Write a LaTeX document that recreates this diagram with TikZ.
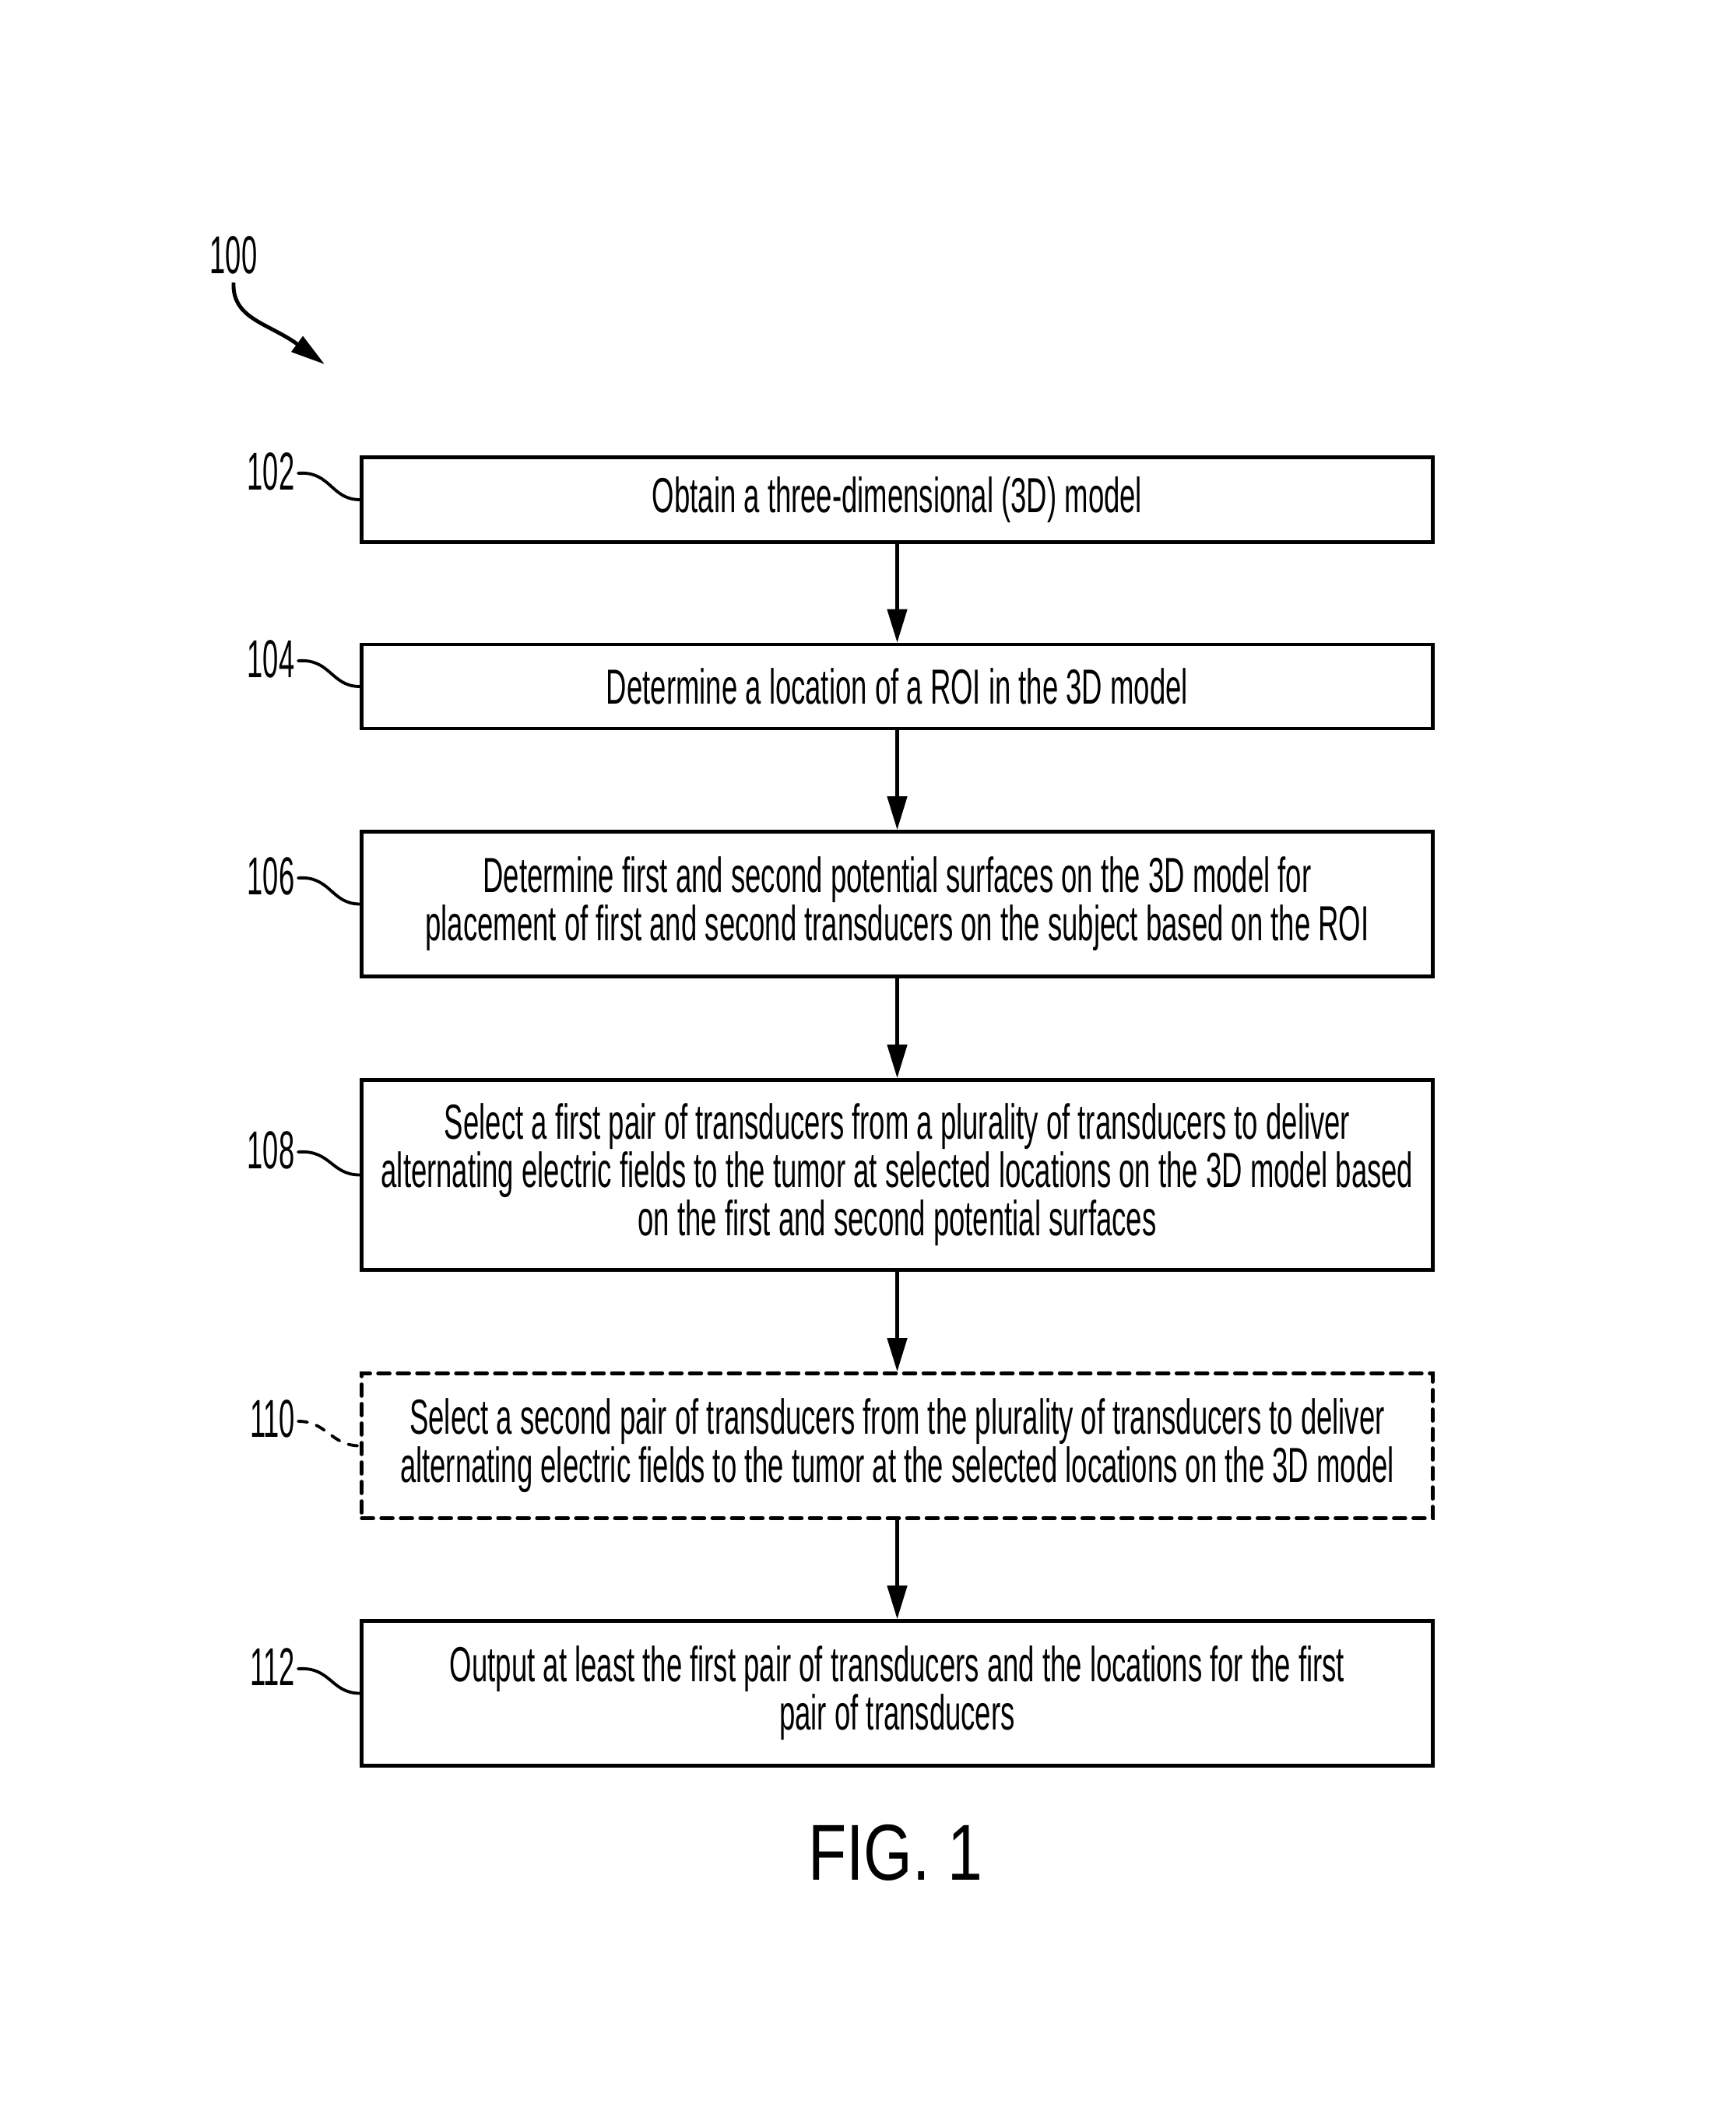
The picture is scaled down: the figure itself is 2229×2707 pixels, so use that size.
\documentclass[tikz,border=0pt]{standalone}
\usepackage{fontspec}
\setmainfont{Liberation Sans}[FakeStretch=0.577]
\newfontfamily\lblfont{Liberation Sans}[FakeStretch=0.53]
\newfontfamily\figfont{Liberation Sans}[FakeStretch=0.79]
\usetikzlibrary{arrows.meta}
\begin{document}
\begin{tikzpicture}[x=0.01cm,y=-0.01cm,
  stepbox/.style={draw,line width=1.3pt,minimum width=13.75cm,align=center,inner sep=0pt,
    font=\fontsize{18}{17.6}\selectfont},
  reflabel/.style={font=\lblfont\fontsize{19.5}{20}\selectfont,inner sep=0pt,anchor=center},
  leader/.style={line width=1.1pt,line cap=round},
  flow/.style={line width=1.3pt,-{Triangle[length=0.43cm,width=0.25cm]}}]
\useasboundingbox (0,0) rectangle (2229,2707);
% boxes
\node[stepbox,minimum height=1.09cm] (b102) at (1152.5,642) {Obtain a three-dimensional (3D) model};
\node[stepbox,minimum height=1.08cm] (b104) at (1152.5,882) {Determine a location of a ROI in the 3D model};
\node[stepbox,minimum height=1.86cm] (b106) at (1152.5,1161.5) {Determine first and second potential surfaces on the 3D model for\\placement of first and second transducers on the subject based on the ROI};
\node[stepbox,minimum height=2.44cm] (b108) at (1152.5,1509.5) {Select a first pair of transducers from a plurality of transducers to deliver\\alternating electric fields to the tumor at selected locations on the 3D model based\\on the first and second potential surfaces};
\node[stepbox,minimum height=1.86cm,dash pattern=on 0.15cm off 0.1cm,line cap=round] (b110) at (1152.5,1857.5) {Select a second pair of transducers from the plurality of transducers to deliver\\alternating electric fields to the tumor at the selected locations on the 3D model};
\node[stepbox,minimum height=1.86cm] (b112) at (1152.5,2175.5) {Output at least the first pair of transducers and the locations for the first\\pair of transducers};
% flow arrows
\draw[flow] (b102) -- (b104);
\draw[flow] (b104) -- (b106);
\draw[flow] (b106) -- (b108);
\draw[flow] (b108) -- (b110);
\draw[flow] (b110) -- (b112);
% reference labels
\node[reflabel] (l100) at (300,328) {100};
\node[reflabel] (l102) at (348,606) {102};
\node[reflabel] (l104) at (348,847) {104};
\node[reflabel] (l106) at (348,1126) {106};
\node[reflabel] (l108) at (348,1478) {108};
\node[reflabel] (l110) at (350,1823) {110};
\node[reflabel] (l112) at (350,2142) {112};
\coordinate (c102) at (383,608);
\coordinate (c104) at (383,849);
\coordinate (c106) at (383,1128);
\coordinate (c108) at (383,1480);
\coordinate (c110) at (383,1826);
\coordinate (c112) at (383,2144);
\draw[leader] (c102) .. controls (425,605) and (425,642) .. (b102.west);
\draw[leader] (c104) .. controls (425,846) and (425,882) .. (b104.west);
\draw[leader] (c106) .. controls (425,1125) and (425,1161.5) .. (b106.west);
\draw[leader] (c108) .. controls (425,1477) and (425,1509.5) .. (b108.west);
\draw[leader,dash pattern=on 0.12cm off 0.12cm] (c110) .. controls (420,1826) and (425,1857.5) .. (b110.west);
\draw[leader] (c112) .. controls (425,2141) and (425,2175.5) .. (b112.west);
% 100 arrow
\coordinate (a100s) at (300,363);
\coordinate (a100e) at (417,468);
\draw[line width=1.4pt,-{Triangle[length=0.44cm,width=0.24cm]}] (a100s) .. controls (298,410) and (345,415) .. (a100e);
% caption
\node[font=\figfont\fontsize{29}{30}\selectfont,inner sep=0pt] (fig) at (1150,2380) {FIG. 1};
\end{tikzpicture}
\end{document}
